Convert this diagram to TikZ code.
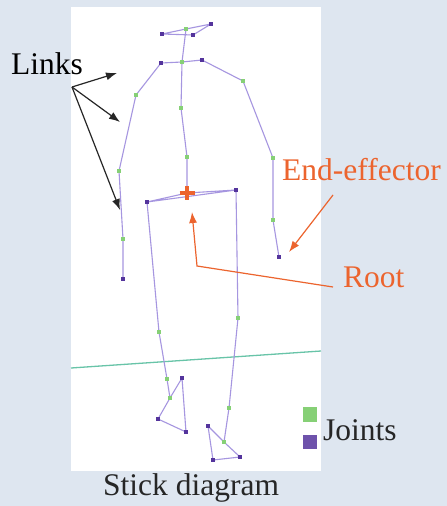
\documentclass[tikz,border=0pt]{standalone}
\usepackage{fontspec}
\setmainfont{Liberation Serif}
\usepackage{tikz}
\usetikzlibrary{arrows.meta,calc}
\definecolor{slate}{RGB}{222,230,240}
\definecolor{linkc}{RGB}{166,150,224}
\definecolor{jgreen}{RGB}{134,208,118}
\definecolor{jpurple}{RGB}{84,52,156}
\definecolor{ground}{RGB}{104,196,168}
\definecolor{hot}{RGB}{236,100,46}
\tikzset{
  lbl/.style={font=\fontsize{31.5}{36}\selectfont,inner sep=0pt,anchor=base west},
  lnk/.style={draw=linkc,line width=1.1pt,line join=round},
  jg/.style={fill=jgreen,minimum size=3.6pt,inner sep=0pt},
  jp/.style={fill=jpurple,minimum size=4pt,inner sep=0pt},
  ptr/.style={-{Latex[length=11pt,width=8pt]},line width=1.2pt},
  hotptr/.style={ptr,draw=hot,color=hot},
}

\begin{document}
\begin{tikzpicture}[x=1pt,y=-1pt]

  % --- backdrop -------------------------------------------------------------
  \fill[slate] (0,0) rectangle (447,506);
  \useasboundingbox (0,0) rectangle (447,506);
  \fill[white] (71,7) rectangle (321,471);

  % --- joints -----------------------------------------------------------------
  \coordinate (hdl) at (162,34);  \coordinate (hdc) at (186,29);
  \coordinate (hdr) at (211,24);  \coordinate (hdm) at (193,35);
  \coordinate (nk)  at (182,62);
  \coordinate (shl) at (161,63);  \coordinate (shr) at (202,60);
  \coordinate (al1) at (136,95);  \coordinate (al2) at (119,171);
  \coordinate (al3) at (123,239); \coordinate (hnl) at (123,279);
  \coordinate (ar1) at (243,81);  \coordinate (ar2) at (273,158);
  \coordinate (ar3) at (273,220); \coordinate (hnr) at (279,257);
  \coordinate (sp1) at (181,108); \coordinate (sp2) at (187,157);
  \coordinate (rt)  at (187,193);
  \coordinate (hpl) at (147,202); \coordinate (hpr) at (236,190);
  \coordinate (ll1) at (159,332); \coordinate (ll2) at (167,379);
  \coordinate (ll3) at (170,398);
  \coordinate (fl1) at (182,378); \coordinate (fl2) at (186,432);
  \coordinate (fl3) at (158,419);
  \coordinate (lr1) at (238,318); \coordinate (lr2) at (229,408);
  \coordinate (lr3) at (224,442);
  \coordinate (fr1) at (208,426); \coordinate (fr2) at (213,460);
  \coordinate (fr3) at (240,457);

  % ground plane
  \draw[ground,line width=1.3pt] (71,368) -- (321,351);

  % --- links ------------------------------------------------------------------
  \draw[lnk] (hdl) -- (hdc) -- (hdr) -- (hdm) -- cycle;
  \draw[lnk] (hdc) -- (nk) -- (sp1) -- (sp2) -- (rt);
  \draw[lnk] (hnl) -- (al3) -- (al2) -- (al1) -- (shl) -- (nk) -- (shr)
             -- (ar1) -- (ar2) -- (ar3) -- (hnr);
  \draw[lnk] (hpl) -- (rt) -- (hpr) -- cycle;
  \draw[lnk] (hpl) -- (ll1) -- (ll2) -- (ll3) -- (fl1) -- (fl2) -- (fl3) -- (ll3);
  \draw[lnk] (hpr) -- (lr1) -- (lr2) -- (lr3) -- (fr1) -- (fr2) -- (fr3) -- (lr3);

  \foreach \j in {hdc,nk,al1,al2,al3,ar1,ar2,ar3,sp1,sp2,ll1,ll2,ll3,lr1,lr2,lr3}
    \node[jg] at (\j) {};
  \foreach \j in {hdl,hdr,hdm,shl,shr,hnl,hnr,hpl,hpr,fl1,fl2,fl3,fr1,fr2,fr3}
    \node[jp] at (\j) {};

  % root marker
  \draw[hot,line width=3.6pt] ($(rt)+(-7.5,0)$) -- ($(rt)+(7.5,0)$)
                              ($(rt)+(0,-7)$) -- ($(rt)+(0,7)$);

  % --- labels -----------------------------------------------------------------
  \node[lbl] (links) at (11,74) {Links};
  \coordinate (lk) at (72,87);
  \coordinate (lk1) at (117,73);
  \coordinate (lk2) at (120,122);
  \coordinate (lk3) at (120,210);
  \foreach \t in {lk1,lk2,lk3} \draw[ptr,black!85] (lk) -- (\t);

  \node[lbl,color=hot] (ee) at (282,180) {End-effector};
  \coordinate (eea) at (333,195);
  \coordinate (eeb) at (289,252);
  \draw[hotptr] (eea) -- (eeb);

  \node[lbl,color=hot] (root) at (343,287) {Root};
  \coordinate (rta) at (333,287);
  \coordinate (rtb) at (197,266);
  \coordinate (rtc) at (192,212);
  \draw[hotptr] (rta) -- (rtb) -- (rtc);

  % legend
  \node[fill=jgreen,minimum size=14.5pt,inner sep=0pt] (lgg) at (310,414.5) {};
  \node[fill=jpurple!85,minimum size=14.5pt,inner sep=0pt] (lgp) at (310,442) {};
  \node[lbl,color=black!85] (joints) at (323,440) {Joints};

  \node[lbl,color=black!85] (caption) at (103,495) {Stick diagram};
\end{tikzpicture}
\end{document}
